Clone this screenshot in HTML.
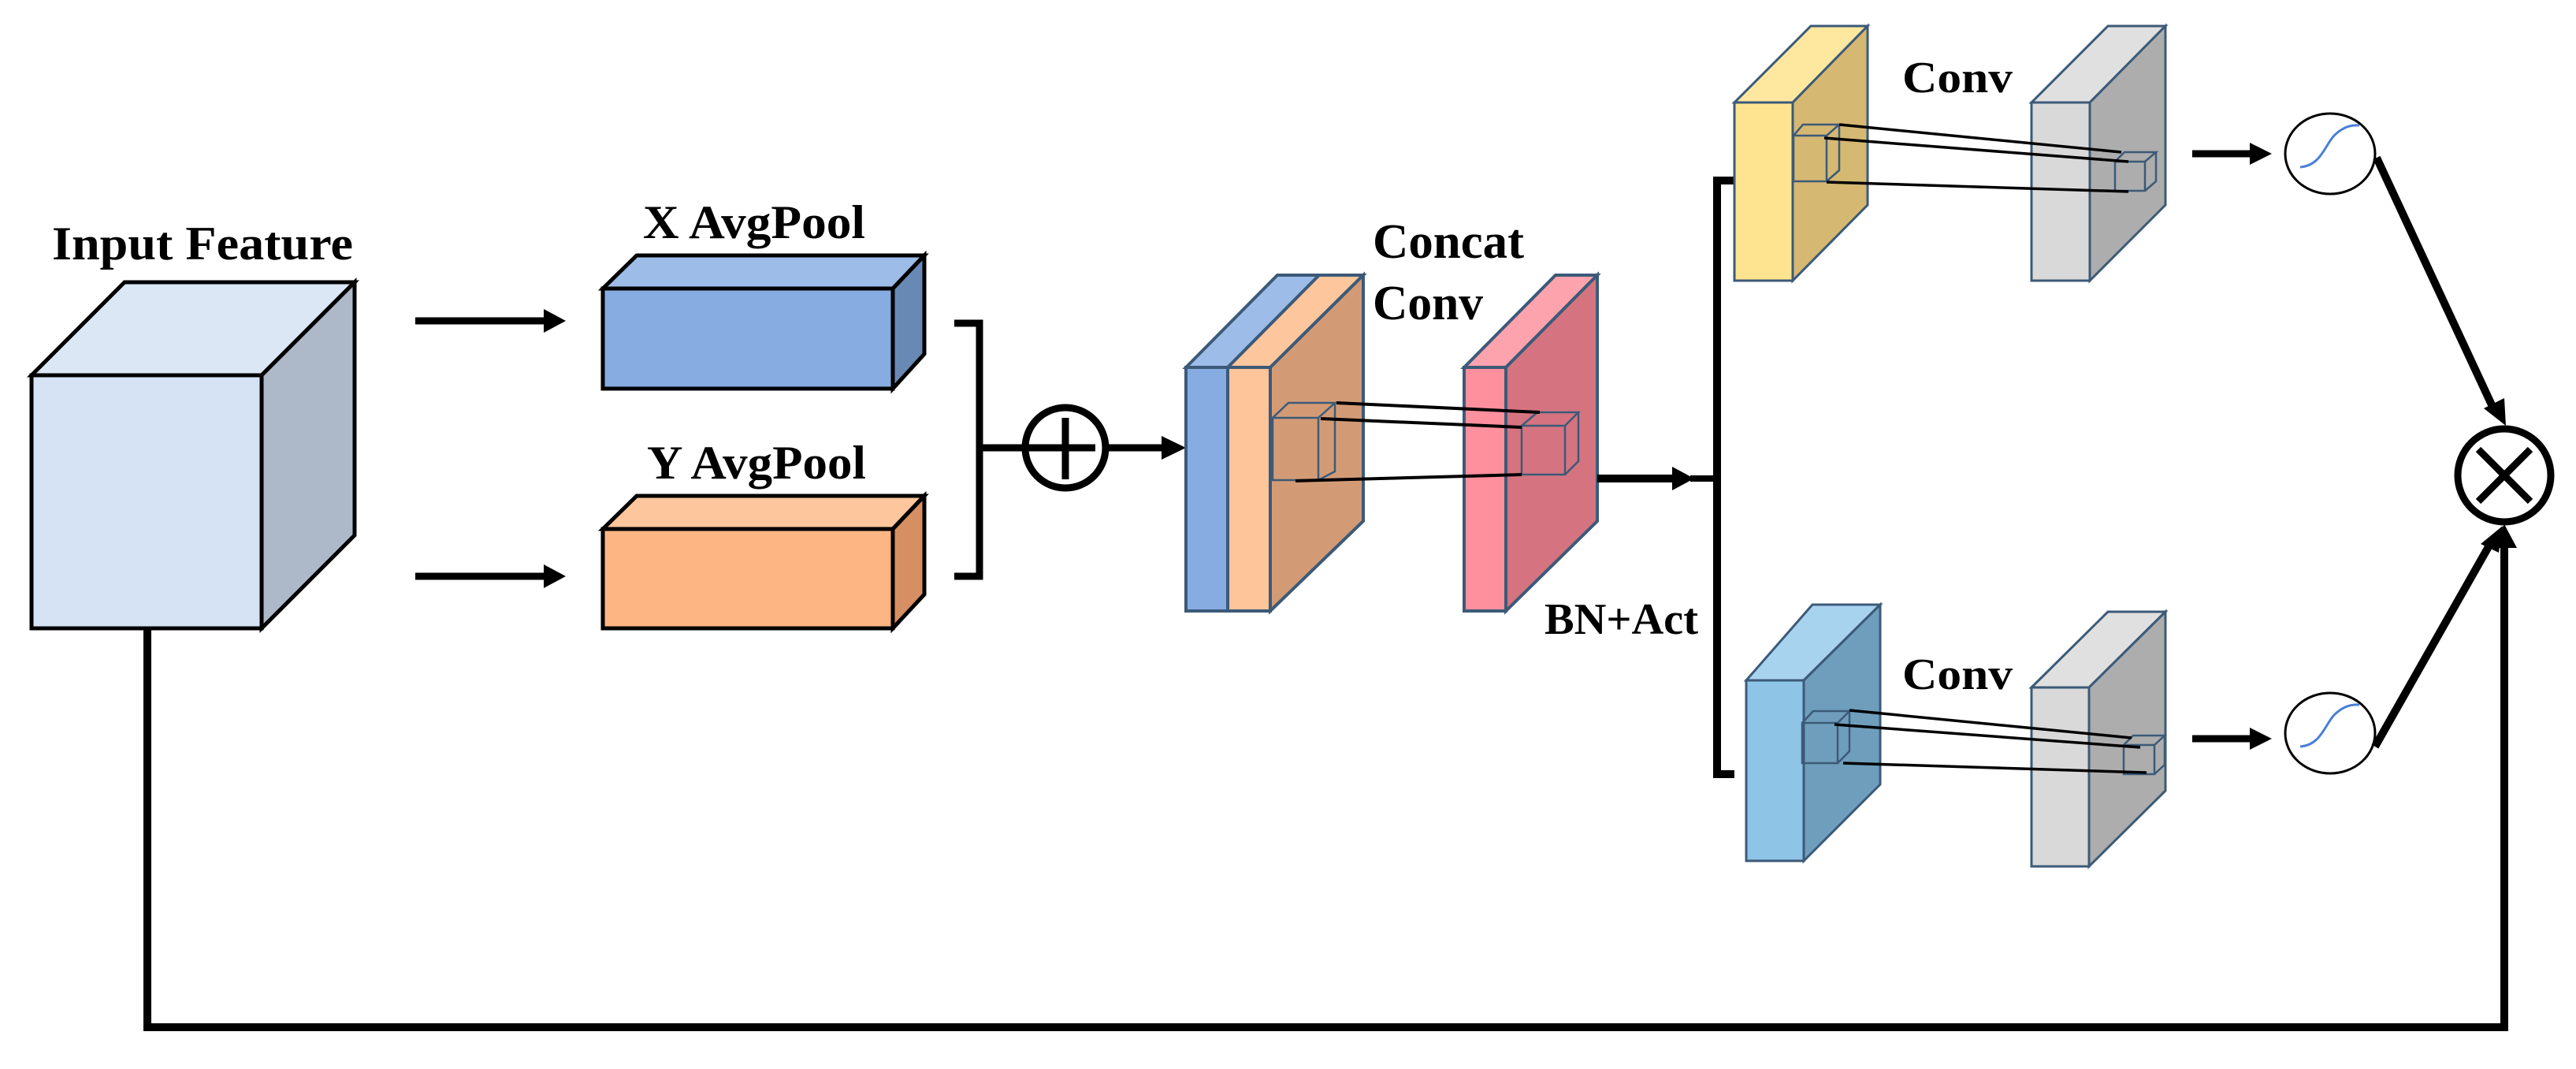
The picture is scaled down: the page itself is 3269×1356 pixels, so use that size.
<!DOCTYPE html>
<html><head><meta charset="utf-8"><style>
html,body{margin:0;padding:0;background:#fff;}
svg{display:block;}
text{font-family:"Liberation Serif",serif;font-weight:bold;fill:#000;}
</style></head><body>
<svg width="3269" height="1356" viewBox="0 0 3269 1356" xmlns="http://www.w3.org/2000/svg">

<!-- Input Feature cube -->
<g stroke="#000" stroke-width="5" stroke-linejoin="miter">
<polygon points="40,476 158,358 450,358 332,476" fill="#DCE7F5"/>
<polygon points="332,476 450,358 450,679 332,797" fill="#ADB8C9"/>
<rect x="40" y="476" width="292" height="321" fill="#D6E3F5"/>
</g>
<text x="66" y="329" font-size="60" textLength="382" lengthAdjust="spacingAndGlyphs">Input Feature</text>

<!-- arrows to pools -->
<line x1="527" y1="407" x2="700" y2="407" stroke="#000" stroke-width="9"/>
<polygon points="690,392 718,407 690,422" fill="#000"/>
<line x1="527" y1="731" x2="700" y2="731" stroke="#000" stroke-width="9"/>
<polygon points="690,716 718,731 690,746" fill="#000"/>

<!-- X AvgPool -->
<g stroke="#000" stroke-width="5">
<polygon points="765,366 808,324 1173,324 1133,366" fill="#9DBCE8"/>
<polygon points="1133,366 1173,324 1173,449 1133,493" fill="#6889B4"/>
<rect x="765" y="366" width="368" height="127" fill="#86ACE2"/>
</g>
<text x="816" y="302" font-size="60" textLength="282" lengthAdjust="spacingAndGlyphs">X AvgPool</text>

<!-- Y AvgPool -->
<g stroke="#000" stroke-width="5">
<polygon points="765,671 808,629 1173,629 1133,671" fill="#FEC69C"/>
<polygon points="1133,671 1173,629 1173,754 1133,797" fill="#D58F62"/>
<rect x="765" y="671" width="368" height="126" fill="#FDB584"/>
</g>
<text x="821" y="607" font-size="60" textLength="278" lengthAdjust="spacingAndGlyphs">Y AvgPool</text>

<!-- bracket -->
<path d="M1211,410 L1243,410 L1243,731 L1211,731" fill="none" stroke="#000" stroke-width="9"/>
<line x1="1243" y1="568" x2="1300" y2="568" stroke="#000" stroke-width="9"/>
<circle cx="1352" cy="568" r="51" fill="#fff" stroke="#000" stroke-width="9"/>
<line x1="1300" y1="568" x2="1390" y2="568" stroke="#000" stroke-width="9"/>
<line x1="1352" y1="530" x2="1352" y2="608" stroke="#000" stroke-width="9"/>
<line x1="1403" y1="568" x2="1480" y2="568" stroke="#000" stroke-width="9"/>
<polygon points="1474,553 1505,568 1474,583" fill="#000"/>

<!-- Concat block -->
<g stroke="#3C5A78" stroke-width="4">
<polygon points="1505,466 1621,349 1674,349 1558,466" fill="#9DBCE8"/>
<polygon points="1558,466 1674,349 1730,349 1612,466" fill="#FEC69C"/>
<polygon points="1612,466 1730,349 1730,661 1612,775" fill="#D39B75"/>
<rect x="1505" y="466" width="53" height="309" fill="#86ACE2"/>
<rect x="1558" y="466" width="54" height="309" fill="#FEC49A"/>
</g>
<g fill="none" stroke="#3C5A78" stroke-width="2.5">
<rect x="1615" y="530" width="58" height="79"/>
<polyline points="1615,530 1635,511 1694,511 1673,530"/>
<polyline points="1694,511 1694,598 1673,609"/>
</g>

<!-- Pink block -->
<g stroke="#3C5A78" stroke-width="4">
<polygon points="1858,466 1974,349 2027,349 1911,466" fill="#FDA3AE"/>
<polygon points="1911,466 2027,349 2027,661 1911,775" fill="#D57480"/>
<rect x="1858" y="466" width="53" height="309" fill="#FE8F9D"/>
</g>
<g fill="none" stroke="#3C5A78" stroke-width="2.5">
<rect x="1931" y="540" width="55" height="62"/>
<polyline points="1931,540 1951,523 2003,523 1986,540"/>
<polyline points="2003,523 2003,585 1986,602"/>
</g>
<g stroke="#000" stroke-width="4">
<line x1="1696" y1="511" x2="1954" y2="523"/>
<line x1="1676" y1="531" x2="1931" y2="542"/>
<line x1="1644" y1="610" x2="1931" y2="602"/>
</g>
<text x="1742" y="327" font-size="62" textLength="192" lengthAdjust="spacingAndGlyphs">Concat</text>
<text x="1742" y="405" font-size="62" textLength="140" lengthAdjust="spacingAndGlyphs">Conv</text>
<text x="1960" y="804" font-size="56" textLength="195" lengthAdjust="spacingAndGlyphs">BN+Act</text>

<!-- arrow to split -->
<line x1="2027" y1="607" x2="2130" y2="607" stroke="#000" stroke-width="10"/>
<polygon points="2122,592 2150,607 2122,622" fill="#000"/>
<line x1="2145" y1="607" x2="2180" y2="607" stroke="#000" stroke-width="8"/>
<path d="M2201,229 L2179,229 L2179,982 L2201,982" fill="none" stroke="#000" stroke-width="10"/>

<!-- Yellow block -->
<g stroke="#3C5A78" stroke-width="3">
<polygon points="2201,130 2298,33 2370,33 2275,130" fill="#FEE8A0"/>
<polygon points="2275,130 2370,33 2370,260 2275,356" fill="#D5B872"/>
<rect x="2201" y="130" width="74" height="226" fill="#FEE391"/>
</g>
<g fill="none" stroke="#3C5A78" stroke-width="2.5">
<rect x="2276" y="172" width="42" height="58"/>
<polyline points="2276,172 2288,158 2334,158 2318,172"/>
<polyline points="2334,158 2334,216 2318,230"/>
</g>
<!-- Gray top -->
<g stroke="#3C5A78" stroke-width="3">
<polygon points="2578,130 2675,33 2748,33 2652,130" fill="#E0E0E0"/>
<polygon points="2652,130 2748,33 2748,260 2652,356" fill="#ADADAD"/>
<rect x="2578" y="130" width="74" height="226" fill="#D9D9D9"/>
</g>
<g fill="none" stroke="#3C5A78" stroke-width="2.5">
<rect x="2684" y="205" width="38" height="37"/>
<polyline points="2684,205 2696,193 2736,193 2722,205"/>
<polyline points="2736,193 2736,230 2722,242"/>
</g>
<g stroke="#000" stroke-width="3.5">
<line x1="2334" y1="158" x2="2692" y2="193"/>
<line x1="2315" y1="175" x2="2701" y2="205"/>
<line x1="2318" y1="231" x2="2701" y2="243"/>
</g>
<text x="2414" y="117" font-size="56" textLength="140" lengthAdjust="spacingAndGlyphs">Conv</text>

<!-- Blue bottom block -->
<g stroke="#3C5A78" stroke-width="3">
<polygon points="2216,863 2300,767 2386,767 2289,863" fill="#A8D3EE"/>
<polygon points="2289,863 2386,767 2386,995 2289,1092" fill="#6E9EBB"/>
<rect x="2216" y="863" width="73" height="229" fill="#8EC4E6"/>
</g>
<g fill="none" stroke="#3C5A78" stroke-width="2.5">
<rect x="2287" y="917" width="45" height="51"/>
<polyline points="2287,917 2301,902 2347,902 2332,917"/>
<polyline points="2347,902 2347,953 2332,968"/>
</g>
<!-- Gray bottom -->
<g stroke="#3C5A78" stroke-width="3">
<polygon points="2578,872 2675,776 2748,776 2651,872" fill="#E0E0E0"/>
<polygon points="2651,872 2748,776 2748,1003 2651,1099" fill="#ADADAD"/>
<rect x="2578" y="872" width="73" height="227" fill="#D9D9D9"/>
</g>
<g fill="none" stroke="#3C5A78" stroke-width="2.5">
<rect x="2695" y="945" width="39" height="37"/>
<polyline points="2695,945 2707,933 2747,933 2734,945"/>
<polyline points="2747,933 2747,970 2734,982"/>
</g>
<g stroke="#000" stroke-width="3.5">
<line x1="2347" y1="901" x2="2705" y2="936"/>
<line x1="2328" y1="919" x2="2716" y2="948"/>
<line x1="2339" y1="968" x2="2724" y2="980"/>
</g>
<text x="2414" y="874" font-size="56" textLength="140" lengthAdjust="spacingAndGlyphs">Conv</text>

<!-- arrows to sigmoid -->
<line x1="2782" y1="195" x2="2860" y2="195" stroke="#000" stroke-width="9"/>
<polygon points="2855,181 2883,195 2855,209" fill="#000"/>
<line x1="2782" y1="937" x2="2860" y2="937" stroke="#000" stroke-width="9"/>
<polygon points="2855,923 2883,937 2855,951" fill="#000"/>

<!-- sigmoid circles -->
<ellipse cx="2957" cy="195" rx="57" ry="51" fill="#fff" stroke="#000" stroke-width="3"/>
<path d="M2919,212 C2945,210 2950,185 2962,172 C2972,162 2983,158 2994,159" fill="none" stroke="#4A7FD6" stroke-width="3"/>
<ellipse cx="2957" cy="930" rx="57" ry="51" fill="#fff" stroke="#000" stroke-width="3"/>
<path d="M2919,947 C2945,945 2950,920 2962,907 C2972,897 2983,893 2994,894" fill="none" stroke="#4A7FD6" stroke-width="3"/>

<!-- multiply -->
<line x1="3016" y1="200" x2="3165" y2="520" stroke="#000" stroke-width="10"/>
<polygon points="3152,518 3180,540 3178,505" fill="#000"/>
<line x1="3014" y1="947" x2="3160" y2="690" stroke="#000" stroke-width="10"/>
<polygon points="3148,690 3176,667 3171,701" fill="#000"/>
<circle cx="3178" cy="603" r="59" fill="#fff" stroke="#000" stroke-width="9"/>
<line x1="3145" y1="570" x2="3211" y2="636" stroke="#000" stroke-width="9"/>
<line x1="3211" y1="570" x2="3145" y2="636" stroke="#000" stroke-width="9"/>

<!-- residual loop -->
<path d="M187,797 L187,1303 L3178,1303 L3178,690" fill="none" stroke="#000" stroke-width="10"/>
<polygon points="3162,695 3178,665 3194,695" fill="#000"/>
</svg>
</body></html>
